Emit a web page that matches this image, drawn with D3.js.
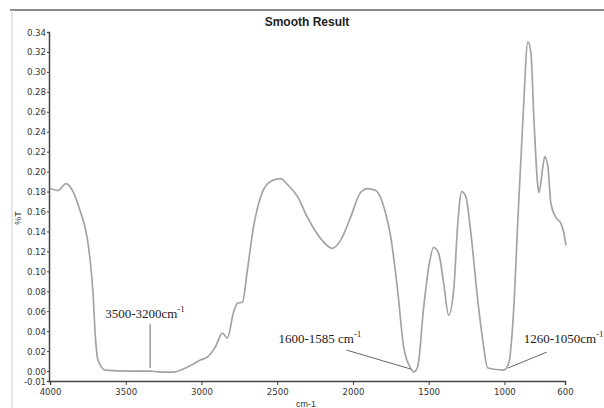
<!DOCTYPE html>
<html lang="en">
<head>
<meta charset="utf-8">
<title>Smooth Result</title>
<script src="https://d3js.org/d3.v7.min.js"></script>
<style>
    body { margin: 0; background: #fff; }
    .tick text { font-family: "Liberation Sans Narrow", "Arial Narrow", "DejaVu Sans Condensed", sans-serif; fill: #333; }
    .note { font-family: "Liberation Serif", "Times New Roman", serif; font-size: 13px; fill: #222; }
</style>
</head>
<body>
<script>
// spectrum: wavenumber (cm-1) and %T
var wavenumbers = [4000, 3947, 3894, 3848, 3802, 3755, 3735, 3716, 3702, 3683, 3636, 3471, 3339, 3272, 3186,
    3120, 3054, 3008, 2962, 2909, 2862, 2829, 2790, 2763, 2730, 2697, 2657, 2611, 2545, 2479, 2432, 2366,
    2300, 2214, 2135, 2082, 2016, 1950, 1903, 1850, 1784, 1751, 1705, 1665, 1619, 1599, 1573, 1533, 1500,
    1467, 1434, 1401, 1368, 1335, 1308, 1282, 1255, 1222, 1176, 1143, 1110, 1004, 971, 938, 911, 878, 845,
    825, 805, 779, 772, 746, 733, 713, 693, 660, 627, 607, 594];
var transmittance = [0.183, 0.181, 0.188, 0.180, 0.161, 0.134, 0.111, 0.078, 0.038, 0.011, 0.001, 0.000, 0.000, -0.001, -0.001,
    0.002, 0.007, 0.011, 0.014, 0.024, 0.038, 0.033, 0.058, 0.068, 0.069, 0.101, 0.144, 0.174, 0.190, 0.193, 0.187, 0.175,
    0.154, 0.133, 0.123, 0.131, 0.154, 0.179, 0.183, 0.181, 0.158, 0.135, 0.081, 0.024, 0.003, -0.001, 0.004, 0.064, 0.104,
    0.124, 0.118, 0.088, 0.056, 0.081, 0.148, 0.180, 0.175, 0.139, 0.071, 0.031, 0.003, 0.001, 0.008, 0.064, 0.152, 0.252, 0.330,
    0.319, 0.252, 0.185, 0.179, 0.205, 0.215, 0.205, 0.168, 0.154, 0.148, 0.138, 0.126];

var xTicks = [4000, 3500, 3000, 2500, 2000, 1500, 1000, 600];
var yTicks = [0.34, 0.32, 0.30, 0.28, 0.26, 0.24, 0.22, 0.20, 0.18, 0.16, 0.14, 0.12, 0.10, 0.08, 0.06, 0.04, 0.02, 0.00, -0.01];

// band labels: label anchor and leader line ends, in wavenumber / %T
var bandLabels = ["3500-3200cm", "1600-1585 cm", "1260-1050cm"];
var bandText = [[3636, 0.053], [2492, 0.028], [872, 0.028]];
var bandLine = [[[3339, 0.047], [3339, 0.003]], [[2042, 0.021], [1619, 0.002]], [[720, 0.019], [977, 0.003]]];

var W = 604, H = 408;
var x = d3.scaleLinear().domain([4000, 600]).range([50, 565]);
var y = d3.scaleLinear().domain([-0.01, 0.34]).range([381, 32]);

var svg = d3.select("body").append("svg")
    .attr("width", W)
    .attr("height", H);

// frame remnants
svg.append("line").attr("x1", 10).attr("x2", W).attr("y1", 10).attr("y2", 10)
    .attr("stroke", "#8a8a8a").attr("stroke-width", 2);
svg.append("line").attr("x1", 12).attr("x2", 12).attr("y1", 10).attr("y2", H)
    .attr("stroke", "#d0d0d0").attr("stroke-width", 1);

svg.append("text")
    .attr("x", 307).attr("y", 26)
    .attr("text-anchor", "middle")
    .style("font-family", "Arial, 'Liberation Sans', sans-serif")
    .style("font-size", "12px").style("font-weight", "bold").style("fill", "#222")
    .text("Smooth Result");

var yAxis = svg.append("g")
    .attr("transform", "translate(49,0)")
    .call(d3.axisLeft(y).tickValues(yTicks).tickSize(2).tickPadding(1)
        .tickFormat(function(d) { return d3.format(".2f")(d).replace("\u2212", "-"); }));
yAxis.selectAll("text").style("font-size", "9.5px");

var xAxis = svg.append("g")
    .attr("transform", "translate(0,381)")
    .call(d3.axisBottom(x).tickValues(xTicks).tickSize(4).tickPadding(3).tickFormat(d3.format("d")));
xAxis.selectAll("text").style("font-size", "9.5px");

svg.selectAll(".domain").attr("stroke", "#444").attr("stroke-width", 1.5);
svg.selectAll(".tick line").attr("stroke", "#444");

svg.append("text")
    .attr("transform", "translate(21,218) rotate(-90)")
    .attr("text-anchor", "middle")
    .style("font-family", "Arial, 'Liberation Sans', sans-serif")
    .style("font-size", "9px").style("fill", "#333")
    .text("%T");

svg.append("text")
    .attr("x", 306).attr("y", 407)
    .attr("text-anchor", "middle")
    .style("font-family", "Arial, 'Liberation Sans', sans-serif")
    .style("font-size", "9px").style("fill", "#333")
    .text("cm-1");

var pts = wavenumbers.map(function(w, i) { return [w, transmittance[i]]; });
var line = d3.line()
    .x(function(d) { return x(d[0]); })
    .y(function(d) { return y(d[1]); })
    .curve(d3.curveMonotoneX);

svg.append("path")
    .datum(pts)
    .attr("fill", "none")
    .attr("stroke", "#a3a3a3")
    .attr("stroke-width", 1.7)
    .attr("d", line);

bandLabels.forEach(function(lbl, i) {
    var seg = bandLine[i];
    svg.append("line")
        .attr("x1", x(seg[0][0])).attr("y1", y(seg[0][1]))
        .attr("x2", x(seg[1][0])).attr("y2", y(seg[1][1]))
        .attr("stroke", "#666").attr("stroke-width", 1);
    var t = svg.append("text")
        .attr("class", "note")
        .attr("x", x(bandText[i][0])).attr("y", y(bandText[i][1]));
    t.append("tspan").text(lbl);
    t.append("tspan").attr("dy", -6).style("font-size", "9px").text("-1");
});
</script>
</body>
</html>
